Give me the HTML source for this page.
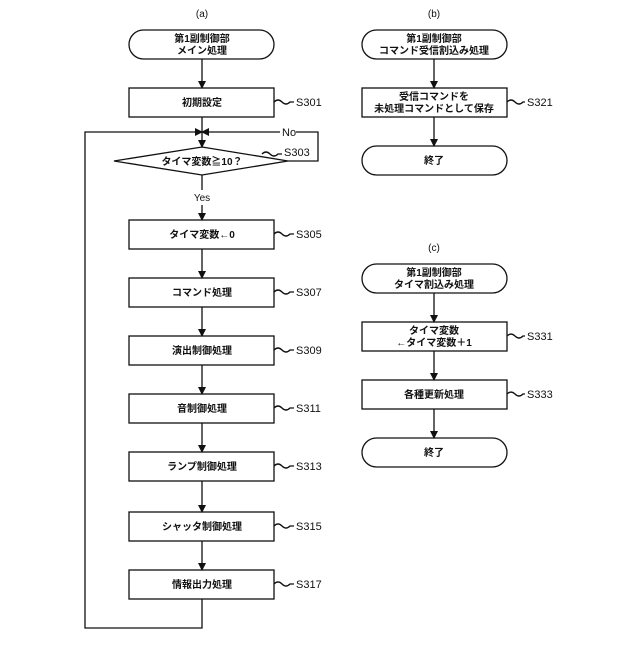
<!DOCTYPE html>
<html><head><meta charset="utf-8"><style>
html,body{margin:0;padding:0;background:#fff}
text{font-family:"Liberation Sans","Noto Sans CJK JP",sans-serif;font-size:10px;font-weight:bold;fill:#111}
.l{font-size:11px;font-weight:normal}
</style></head><body>
<svg width="640" height="640" viewBox="0 0 640 640" xmlns="http://www.w3.org/2000/svg">
<defs><marker id="a" markerWidth="8" markerHeight="8" refX="7" refY="4" orient="auto" markerUnits="userSpaceOnUse"><path d="M0,0 L8,4 L0,8 z" fill="#111"/></marker></defs>
<g fill="none" stroke="#111" stroke-width="1.3">
<!-- (a) -->
<rect x="129" y="30" width="145" height="29" rx="14.5"/>
<rect x="129" y="88" width="145" height="29"/>
<polygon points="114,161 202,147 288,161 202,175"/>
<rect x="129" y="220" width="145" height="29"/>
<rect x="129" y="278" width="145" height="29"/>
<rect x="129" y="336" width="145" height="29"/>
<rect x="129" y="394" width="145" height="29"/>
<rect x="129" y="452" width="145" height="29"/>
<rect x="129" y="512" width="145" height="29"/>
<rect x="129" y="570" width="145" height="29"/>
<line x1="202" y1="59" x2="202" y2="88" marker-end="url(#a)"/>
<line x1="202" y1="117" x2="202" y2="147" marker-end="url(#a)"/>
<line x1="202" y1="175" x2="202" y2="190"/>
<line x1="202" y1="205" x2="202" y2="220" marker-end="url(#a)"/>
<line x1="202" y1="249" x2="202" y2="278" marker-end="url(#a)"/>
<line x1="202" y1="307" x2="202" y2="336" marker-end="url(#a)"/>
<line x1="202" y1="365" x2="202" y2="394" marker-end="url(#a)"/>
<line x1="202" y1="423" x2="202" y2="452" marker-end="url(#a)"/>
<line x1="202" y1="481" x2="202" y2="512" marker-end="url(#a)"/>
<line x1="202" y1="541" x2="202" y2="570" marker-end="url(#a)"/>
<polyline points="202,599 202,628 85,628 85,132 202,132" marker-end="url(#a)"/>
<polyline points="288,161 318,161 318,132 296,132"/>
<line x1="280" y1="132" x2="202" y2="132" marker-end="url(#a)"/>
<!-- squiggles -->
<path d="M274,102 q4,-4 8,0 t8,0 l4,0"/>
<path d="M262,154 q4,-4 8,0 t8,0 l4,0"/>
<path d="M274,234 q4,-4 8,0 t8,0 l4,0"/>
<path d="M274,292 q4,-4 8,0 t8,0 l4,0"/>
<path d="M274,350 q4,-4 8,0 t8,0 l4,0"/>
<path d="M274,408 q4,-4 8,0 t8,0 l4,0"/>
<path d="M274,466 q4,-4 8,0 t8,0 l4,0"/>
<path d="M274,526 q4,-4 8,0 t8,0 l4,0"/>
<path d="M274,584 q4,-4 8,0 t8,0 l4,0"/>
<!-- (b) -->
<rect x="362" y="30" width="145" height="29" rx="14.5"/>
<rect x="362" y="88" width="145" height="29"/>
<rect x="362" y="146" width="145" height="29" rx="14.5"/>
<line x1="434" y1="59" x2="434" y2="88" marker-end="url(#a)"/>
<line x1="434" y1="117" x2="434" y2="146" marker-end="url(#a)"/>
<path d="M507,102 q4,-4 8,0 t8,0 l2,0"/>
<!-- (c) -->
<rect x="362" y="264" width="145" height="29" rx="14.5"/>
<rect x="362" y="322" width="145" height="29"/>
<rect x="362" y="380" width="145" height="29"/>
<rect x="362" y="438" width="145" height="29" rx="14.5"/>
<line x1="434" y1="293" x2="434" y2="322" marker-end="url(#a)"/>
<line x1="434" y1="351" x2="434" y2="380" marker-end="url(#a)"/>
<line x1="434" y1="409" x2="434" y2="438" marker-end="url(#a)"/>
<path d="M507,336 q4,-4 8,0 t8,0 l2,0"/>
<path d="M507,394 q4,-4 8,0 t8,0 l2,0"/>
</g>
<g text-anchor="middle">
<text x="202" y="17" class="l" style="font-size:10px">(a)</text>
<text x="202" y="42">第1副制御部</text>
<text x="202" y="54">メイン処理</text>
<text x="202" y="106">初期設定</text>
<text x="202" y="165">タイマ変数≧10？</text>
<text x="202" y="201" style="font-weight:normal">Yes</text>
<text x="202" y="238">タイマ変数←0</text>
<text x="202" y="296">コマンド処理</text>
<text x="202" y="354">演出制御処理</text>
<text x="202" y="412">音制御処理</text>
<text x="202" y="470">ランプ制御処理</text>
<text x="202" y="530">シャッタ制御処理</text>
<text x="202" y="588">情報出力処理</text>
<text x="434" y="17" style="font-weight:normal">(b)</text>
<text x="434" y="42">第1副制御部</text>
<text x="434" y="54">コマンド受信割込み処理</text>
<text x="434" y="100">受信コマンドを</text>
<text x="434" y="112">未処理コマンドとして保存</text>
<text x="434" y="164">終了</text>
<text x="434" y="251" style="font-weight:normal">(c)</text>
<text x="434" y="276">第1副制御部</text>
<text x="434" y="288">タイマ割込み処理</text>
<text x="434" y="334">タイマ変数</text>
<text x="434" y="346">←タイマ変数＋1</text>
<text x="434" y="398">各種更新処理</text>
<text x="434" y="456">終了</text>
</g>
<g class="l">
<text x="282" y="136" class="l" style="fill:#111;background:#fff">No</text>
<text x="296" y="106" class="l">S301</text>
<text x="284" y="156" class="l">S303</text>
<text x="296" y="238" class="l">S305</text>
<text x="296" y="296" class="l">S307</text>
<text x="296" y="354" class="l">S309</text>
<text x="296" y="412" class="l">S311</text>
<text x="296" y="470" class="l">S313</text>
<text x="296" y="530" class="l">S315</text>
<text x="296" y="588" class="l">S317</text>
<text x="527" y="106" class="l">S321</text>
<text x="527" y="340" class="l">S331</text>
<text x="527" y="398" class="l">S333</text>
</g>
</svg>
</body></html>
